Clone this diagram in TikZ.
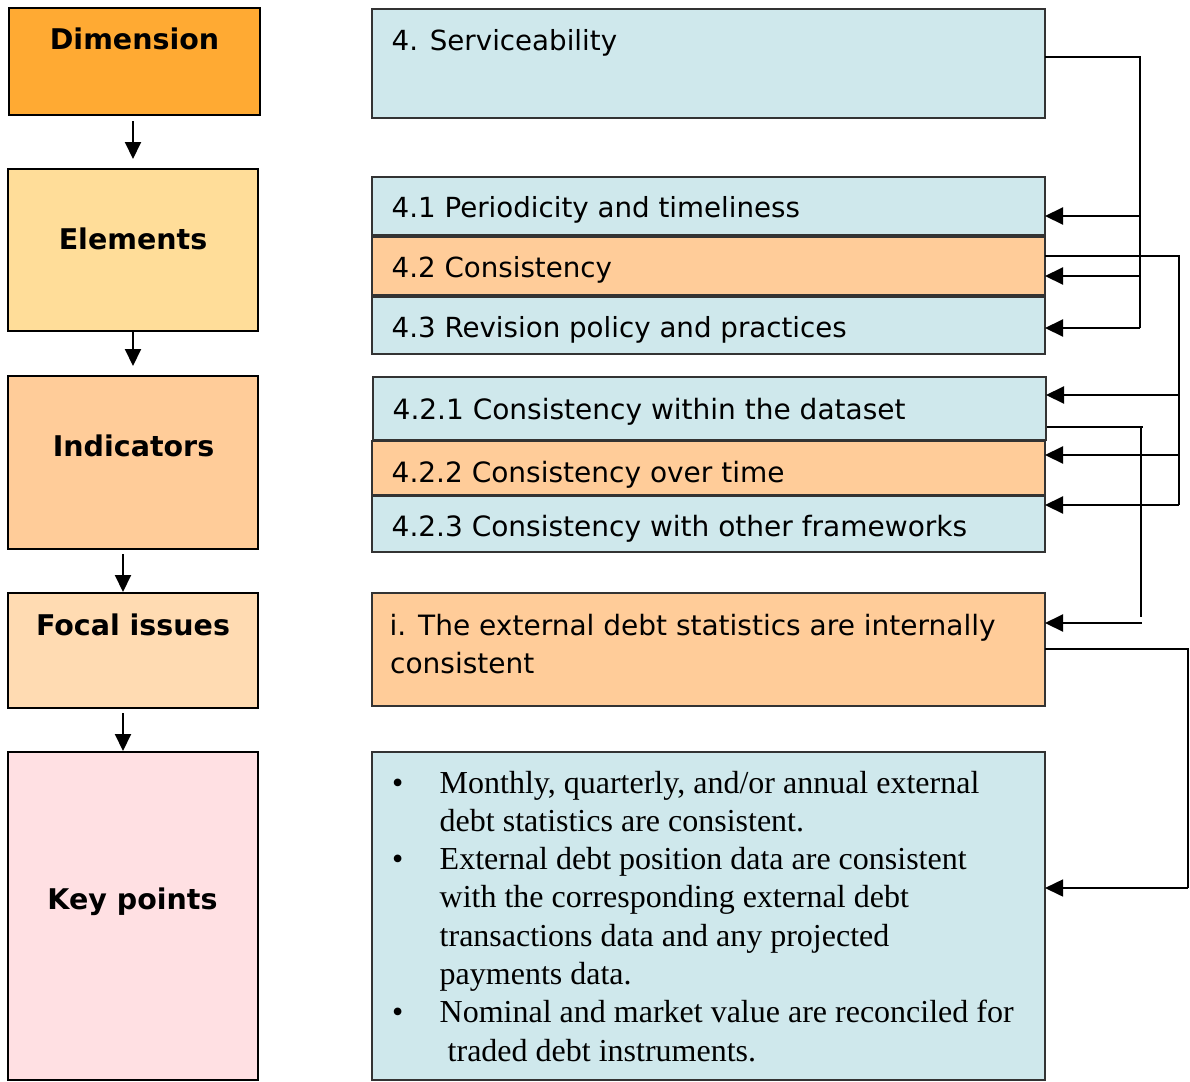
\documentclass[tikz,border=0pt]{standalone}
\usepackage{fontspec}
\usetikzlibrary{arrows.meta}
\newfontfamily\sansf{DejaVu Sans}
\newfontfamily\serf{Liberation Serif}
\definecolor{dimfill}{HTML}{FFAA33}
\definecolor{elemfill}{HTML}{FFDD99}
\definecolor{indfill}{HTML}{FFCC99}
\definecolor{focfill}{HTML}{FFDBB2}
\definecolor{keyfill}{HTML}{FFE0E3}
\definecolor{cyanfill}{HTML}{CFE8EC}
\definecolor{orfill}{HTML}{FFCC99}
\definecolor{rborder}{HTML}{333333}
\tikzset{
  lbox/.style={draw=black, line width=2pt, inner sep=0pt, outer sep=0pt, anchor=north west},
  rbox/.style={draw=rborder, line width=2pt, inner sep=0pt, outer sep=0pt, anchor=north west},
  lbl/.style={font=\sansf\bfseries\fontsize{28.5}{34}\selectfont, inner sep=0pt, anchor=base},
  rtxt/.style={font=\sansf\fontsize{27.7}{33}\selectfont, inner sep=0pt, anchor=base west},
  rtxtb/.style={font=\sansf\fontsize{28}{33}\selectfont, inner sep=0pt, anchor=base west},
  ktxt/.style={font=\serf\fontsize{32}{38}\selectfont, inner sep=0pt, anchor=base west},
  larr/.style={line width=2pt, -{Triangle[length=17pt,width=16pt]}},
  bus/.style={line width=2.2pt},
  busthin/.style={line width=1.6pt},
  rarr/.style={line width=2.2pt, -{Triangle[length=18pt,width=17pt]}},
  rarrthin/.style={line width=1.6pt, -{Triangle[length=18pt,width=17pt]}},
}
\begin{document}
\begin{tikzpicture}[x=1pt,y=-1pt]
\useasboundingbox[fill=white] (0,0) rectangle (1190,1081);

% left column
\node[lbox, fill=dimfill, minimum width=251pt, minimum height=107pt] (dim) at (9,8) {};
\node[lbox, fill=elemfill, minimum width=250pt, minimum height=162pt] (elem) at (8,169) {};
\node[lbox, fill=indfill, minimum width=250pt, minimum height=173pt] (ind) at (8,376) {};
\node[lbox, fill=focfill, minimum width=250pt, minimum height=115pt] (focl) at (8,593) {};
\node[lbox, fill=keyfill, minimum width=250pt, minimum height=328pt] (keyl) at (8,752) {};

\node[lbl] (tdim) at (134.5,50) {Dimension};
\node[lbl] (telem) at (133,249) {Elements};
\node[lbl] (tind) at (133.5,456) {Indicators};
\node[lbl] (tfoc) at (133,635) {Focal issues};
\node[lbl] (tkey) at (132.5,909) {Key points};

\draw[larr] ([xshift=-1.5pt,yshift=-6pt]dim.south) -- ([yshift=10pt]elem.north);
\draw[larr] (elem.south) -- ([yshift=10pt]ind.north);
\draw[larr] ([xshift=-10pt,yshift=-5pt]ind.south) -- ([xshift=-10pt,yshift=1pt]focl.north);
\draw[larr] ([xshift=-10pt,yshift=-5pt]focl.south) -- ([xshift=-10pt,yshift=1pt]keyl.north);

% right column
\node[rbox, fill=cyanfill, minimum width=673pt, minimum height=109pt] (serv) at (372,9) {};
\node[rbox, fill=cyanfill, minimum width=673pt, minimum height=58pt] (e41) at (372,177) {};
\node[rbox, fill=orfill, minimum width=673pt, minimum height=58pt] (e42) at (372,237) {};
\node[rbox, fill=cyanfill, minimum width=673pt, minimum height=57pt] (e43) at (372,297) {};
\node[rbox, fill=orfill, minimum width=673pt, minimum height=54pt] (i422) at (372,441) {};
\node[rbox, fill=cyanfill, minimum width=673pt, minimum height=63pt] (i421) at (373,377) {};
\node[rbox, fill=cyanfill, minimum width=673pt, minimum height=56pt] (i423) at (372,496) {};
\node[rbox, fill=orfill, minimum width=673pt, minimum height=113pt] (foc) at (372,593) {};
\node[rbox, fill=cyanfill, minimum width=673pt, minimum height=328pt] (kp) at (372,752) {};

\node[rtxt] (tserv) at (391.5,51) {4. Serviceability};
\node[rtxt] (t41) at (391.5,217) {4.1 Periodicity and timeliness};
\node[rtxt] (t42) at (391.5,277) {4.2 Consistency};
\node[rtxt] (t43) at (391.5,337) {4.3 Revision policy and practices};
\node[rtxtb] (t421) at (392.5,419) {4.2.1 Consistency within the dataset};
\node[rtxtb] (t422) at (391.5,482) {4.2.2 Consistency over time};
\node[rtxtb] (t423) at (391.5,536) {4.2.3 Consistency with other frameworks};
\node[rtxtb] (tfa) at (389.5,635) {i. The external debt statistics are internally};
\node[rtxtb] (tfb) at (390,673) {consistent};

\node[ktxt] (b1) at (392,793) {•};
\node[ktxt] (k1) at (439.5,793) {Monthly, quarterly, and/or annual external};
\node[ktxt] (k2) at (439.5,831.3) {debt statistics are consistent.};
\node[ktxt] (b2) at (392,869.6) {•};
\node[ktxt] (k3) at (439.5,869.6) {External debt position data are consistent};
\node[ktxt] (k4) at (439.5,907.9) {with the corresponding external debt};
\node[ktxt] (k5) at (439.5,946.2) {transactions data and any projected};
\node[ktxt] (k6) at (439.5,984.5) {payments data.};
\node[ktxt] (b3) at (392,1022.8) {•};
\node[ktxt] (k7) at (439.5,1022.8) {Nominal and market value are reconciled for};
\node[ktxt] (k8) at (447.5,1061.1) {traded debt instruments.};

% connectors: dimension to elements
\coordinate (A0) at (1140,57);
\coordinate (A1) at (1140,216);
\coordinate (A2) at (1140,276);
\coordinate (A3) at (1140,328);
\draw[bus] (serv.east |- A0) -- (A0) -- (A3);
\draw[rarr] (A1) -- (A1 -| e41.east);
\draw[rarr] (A2) -- (A2 -| e42.east);
\draw[rarr] (A3) -- (A3 -| e43.east);

% 4.2 to indicators
\coordinate (B0) at (1179,256);
\coordinate (B1) at (1179,395);
\coordinate (B2) at (1179,455);
\coordinate (B3) at (1179,505);
\draw[busthin] (e42.east |- B0) -- (B0) -- (B3);
\draw[rarr] (B1) -- (B1 -| i421.east);
\draw[rarr] (B2) -- (B2 -| i422.east);
\draw[rarr] (B3) -- (B3 -| i423.east);

% 4.2.1 to focal issue
\coordinate (C0) at (1143,427);
\coordinate (C1) at (1141,427);
\coordinate (C2) at (1141,617);
\coordinate (C3) at (1141.5,623);
\draw[busthin] ([xshift=1pt]i421.east |- C0) -- (C0);
\draw[bus] (C1) -- (C2);
\draw[rarr] (C3) -- (C3 -| foc.east);

% focal issue to key points
\coordinate (D0) at (1188,649);
\coordinate (D1) at (1188,888);
\draw[busthin] (foc.east |- D0) -- (D0) -- (D1);
\draw[rarrthin] (D1) -- (D1 -| kp.east);
\end{tikzpicture}
\end{document}
